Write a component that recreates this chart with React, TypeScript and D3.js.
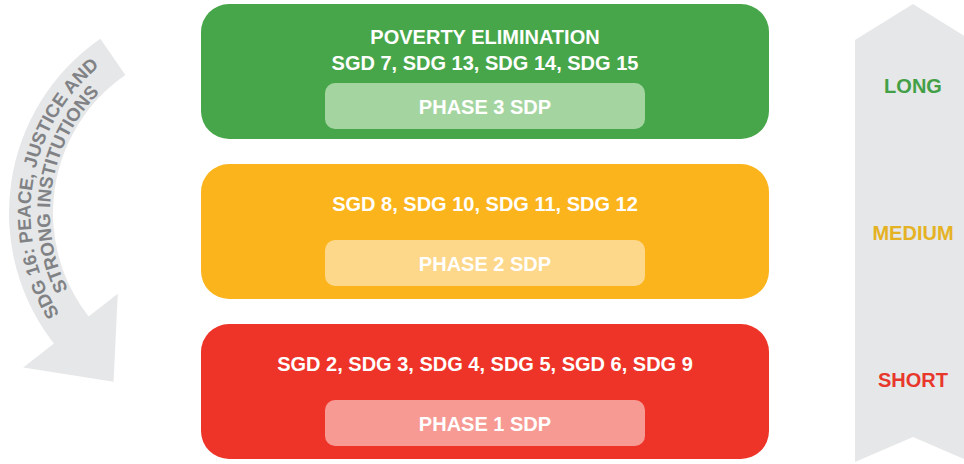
import { useEffect } from 'react';
import * as d3 from 'd3';

const W = 964;
const H = 464;

const TIERS = ['LONG', 'MEDIUM', 'SHORT'];
const TIER_COLORS = ['#48a64a', '#fbb41b', '#ee3428'];
const PANEL_TINTS = ['#a4d5a0', '#fdd78a', '#f69a93'];
const LABEL_COLORS = ['#43a047', '#e5b223', '#e8372b'];
const HEADLINES = [
  ['POVERTY ELIMINATION', 'SGD 7, SDG 13, SDG 14, SDG 15'],
  ['SGD 8, SDG 10, SDG 11, SDG 12'],
  ['SGD 2, SDG 3, SDG 4, SDG 5, SGD 6, SDG 9'],
];
const PHASES = ['PHASE 3 SDP', 'PHASE 2 SDP', 'PHASE 1 SDP'];
const ARC_LINES = ['SDG 16: PEACE, JUSTICE AND', 'STRONG INSTITUTIONS'];

const FONT = '"Liberation Sans", Arial, sans-serif';
const GREY = '#e6e7e8';
const BOX = { x0: 201, x1: 769 };
const INNER_W = 320;
const INNER_H = 46;

// curved arrow geometry (angles in degrees, screen coords, clockwise from +x)
const ARC_C = { x: 221, y: 213 };
const ARC_R = [168, 212];
const ARC_A = [142, 235.3];
const ARC_TEXT_R = [190.5, 171];

const rad = (deg: number) => (deg * Math.PI) / 180;
const polar = (r: number, deg: number): [number, number] => [
  ARC_C.x + r * Math.cos(rad(deg)),
  ARC_C.y + r * Math.sin(rad(deg)),
];

function arcPath(r: number, a0: number, a1: number) {
  const p = d3.path();
  p.arc(ARC_C.x, ARC_C.y, r, rad(a0), rad(a1), false);
  return p.toString();
}

export default function App() {
  useEffect(() => {
    document.body.style.margin = '0';
  }, []);

  const y = d3.scaleBand<string>().domain(TIERS).range([4, 459]).paddingInner(0.15625);
  const labelY = d3.scalePoint<string>().domain(TIERS).range([86, 380]);
  const cx = (BOX.x0 + BOX.x1) / 2;

  // d3.arc measures angles from 12 o'clock, hence the +90
  const band = d3.arc()({
    innerRadius: ARC_R[0],
    outerRadius: ARC_R[1],
    startAngle: rad(ARC_A[0] + 90 - 1),
    endAngle: rad(ARC_A[1] + 90),
  } as any) as string;

  const head = [polar(251, ARC_A[0]), polar(131, ARC_A[0]), polar(200, 122.5)];

  const chevron = [
    [855, 40], [913, 4], [971, 40], [971, 462], [913, 437], [855, 462],
  ];

  return (
    <svg width={W} height={H} style={{ display: 'block' }} fontFamily={FONT} fontWeight="bold">
      {/* left curved arrow */}
      <path d={band} transform={`translate(${ARC_C.x},${ARC_C.y})`} fill={GREY} />
      <polygon points={head.map((p) => p.join(',')).join(' ')} fill={GREY} />
      <defs>
        {ARC_TEXT_R.map((r, i) => (
          <path key={i} id={`arc-line-${i}`} d={arcPath(r, ARC_A[0], ARC_A[1])} fill="none" />
        ))}
      </defs>
      {ARC_LINES.map((t, i) => (
        <text key={t} fontSize={18.5} fill="#808285">
          <textPath href={`#arc-line-${i}`} startOffset="50.5%" textAnchor="middle">
            {t}
          </textPath>
        </text>
      ))}

      {/* right chevron */}
      <polygon points={chevron.map((p) => p.join(',')).join(' ')} fill={GREY} />
      {TIERS.map((t, i) => (
        <text key={t} x={913} y={(labelY(t) ?? 0) + 7} textAnchor="middle" fontSize={20} fill={LABEL_COLORS[i]}>
          {t}
        </text>
      ))}

      {/* tier boxes */}
      {TIERS.map((t, i) => {
        const y0 = y(t) ?? 0;
        const lines = HEADLINES[i];
        const innerTop = y0 + (lines.length > 1 ? 79 : 76);
        return (
          <g key={t}>
            <rect x={BOX.x0} y={y0} width={BOX.x1 - BOX.x0} height={y.bandwidth()} rx={28} fill={TIER_COLORS[i]} />
            {lines.map((l, j) => (
              <text
                key={l}
                x={cx}
                y={y0 + (lines.length > 1 ? 40 + j * 26 : 47)}
                textAnchor="middle"
                fontSize={20}
                fill="#fff"
              >
                {l}
              </text>
            ))}
            <rect x={cx - INNER_W / 2} y={innerTop} width={INNER_W} height={INNER_H} rx={10} fill={PANEL_TINTS[i]} />
            <text x={cx} y={innerTop + 30.5} textAnchor="middle" fontSize={20} fill="#fff">
              {PHASES[i]}
            </text>
          </g>
        );
      })}
    </svg>
  );
}
